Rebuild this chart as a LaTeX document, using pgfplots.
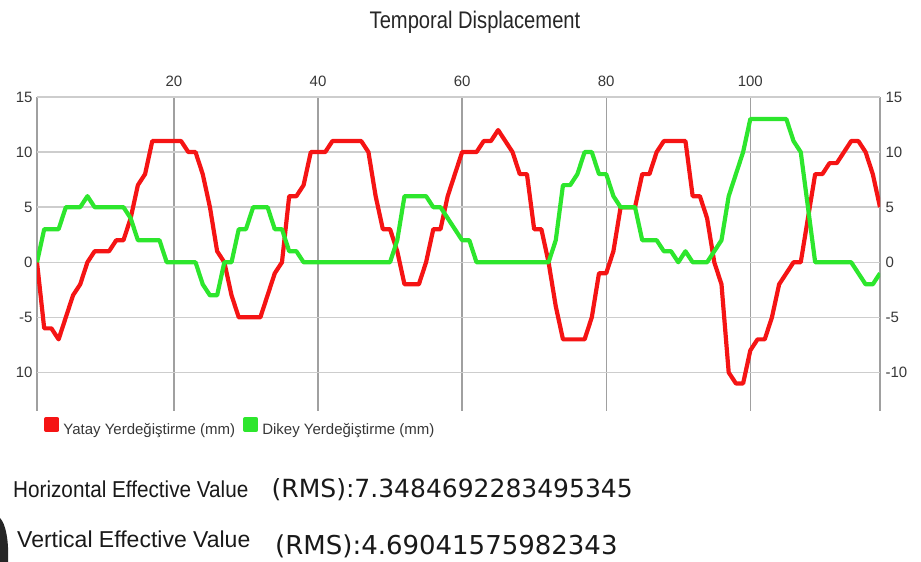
\documentclass[border=0pt]{standalone}
\usepackage{graphicx}
\usepackage{pgfplots}
\pgfplotsset{compat=1.18}
\usepackage{pgfplotstable}
\usepackage{fontspec}
\setmainfont{Liberation Sans}
\newfontfamily\dejavu{DejaVu Sans}

\definecolor{cred}{RGB}{245,20,20}
\definecolor{cgreen}{RGB}{45,230,45}
\definecolor{vgrid}{RGB}{160,160,160}
\definecolor{hgrid}{RGB}{205,205,205}
\definecolor{ticktext}{RGB}{55,55,55}

% horizontal displacement (red)
\pgfplotstableread{
x y
1 0
2 -6
3 -6
4 -7
5 -5
6 -3
7 -2
8 0
9 1
10 1
11 1
12 2
13 2
14 4
15 7
16 8
17 11
18 11
19 11
20 11
21 11
22 10
23 10
24 8
25 5
26 1
27 0
28 -3
29 -5
30 -5
31 -5
32 -5
33 -3
34 -1
35 0
36 6
37 6
38 7
39 10
40 10
41 10
42 11
43 11
44 11
45 11
46 11
47 10
48 6
49 3
50 3
51 1
52 -2
53 -2
54 -2
55 0
56 3
57 3
58 6
59 8
60 10
61 10
62 10
63 11
64 11
65 12
66 11
67 10
68 8
69 8
70 3
71 3
72 0
73 -4
74 -7
75 -7
76 -7
77 -7
78 -5
79 -1
80 -1
81 1
82 5
83 5
84 5
85 8
86 8
87 10
88 11
89 11
90 11
91 11
92 6
93 6
94 4
95 0
96 -2
97 -10
98 -11
99 -11
100 -8
101 -7
102 -7
103 -5
104 -2
105 -1
106 0
107 0
108 4
109 8
110 8
111 9
112 9
113 10
114 11
115 11
116 10
117 8
118 5
}\yatay

% vertical displacement (green)
\pgfplotstableread{
x y
1 0
2 3
3 3
4 3
5 5
6 5
7 5
8 6
9 5
10 5
11 5
12 5
13 5
14 4
15 2
16 2
17 2
18 2
19 0
20 0
21 0
22 0
23 0
24 -2
25 -3
26 -3
27 0
28 0
29 3
30 3
31 5
32 5
33 5
34 3
35 3
36 1
37 1
38 0
39 0
40 0
41 0
42 0
43 0
44 0
45 0
46 0
47 0
48 0
49 0
50 0
51 2
52 6
53 6
54 6
55 6
56 5
57 5
58 4
59 3
60 2
61 2
62 0
63 0
64 0
65 0
66 0
67 0
68 0
69 0
70 0
71 0
72 0
73 2
74 7
75 7
76 8
77 10
78 10
79 8
80 8
81 6
82 5
83 5
84 5
85 2
86 2
87 2
88 1
89 1
90 0
91 1
92 0
93 0
94 0
95 1
96 2
97 6
98 8
99 10
100 13
101 13
102 13
103 13
104 13
105 13
106 11
107 10
108 5
109 0
110 0
111 0
112 0
113 0
114 0
115 -1
116 -2
117 -2
118 -1
}\dikey

\begin{document}
\begin{tikzpicture}
\useasboundingbox (0,0) rectangle (921pt,562pt);

\pgfplotsset{
  panel/.style={
    at={(37pt,151pt)}, anchor=south west,
    width=843pt, height=314pt, scale only axis,
    xmin=1, xmax=118, ymin=-13.5, ymax=15,
    axis line style={draw=none},
    major tick length=0pt,
    ytick={-10,-5,0,5,10,15},
    tick label style={font=\fontsize{15}{18}\selectfont, text=ticktext},
  }
}

\begin{axis}[panel,
  xtick={1,20,40,60,80,100,118},
  xticklabels={,20,40,60,80,100,},
  xticklabel pos=top,
  xticklabel style={yshift=7pt},
  yticklabels={10,-5,0,5,10,15},
  yticklabel style={xshift=-1pt},
  xmajorgrids, ymajorgrids,
  x grid style={vgrid, line width=1.4pt},
  y grid style={hgrid, line width=1.4pt},
  legend columns=2,
  legend style={at={(0.0083,-0.018)}, anchor=north west,
    draw=none, fill=none, inner sep=0pt,
    nodes={inner sep=0pt},
    font=\fontsize{15}{18}\selectfont, text=ticktext,
    /tikz/every odd column/.append style={column sep=4pt},
    /tikz/every even column/.append style={column sep=8pt}},
  legend image code/.code={\fill[#1] (0pt,-0.3pt) rectangle (11pt,10.7pt);},
]
\addplot[color=cred, line width=4.2pt, line join=round] table[x=x, y=y] {\yatay};
\addlegendentry{Yatay Yerdeğiştirme (mm)}
\addplot[color=cgreen, line width=4.2pt, line join=round] table[x=x, y=y] {\dikey};
\addlegendentry{Dikey Yerdeğiştirme (mm)}
\end{axis}

\begin{axis}[panel,
  xtick=\empty,
  yticklabel pos=right,
  yticklabels={-10,-5,0,5,10,15},
  yticklabel style={xshift=2pt},
]
\end{axis}

\node[anchor=base, inner sep=0pt, text=black!85] at (475pt,533.7pt)
  {\fontsize{24}{28}\selectfont\scalebox{0.84}[1]{Temporal Displacement}};

\node[anchor=base west, inner sep=0pt, text=black!90] at (13pt,64pt)
  {\fontsize{23}{27}\selectfont\scalebox{0.9}[1]{Horizontal Effective Value}};
\node[anchor=base west, inner sep=0pt, text=black!90] at (17pt,14.3pt)
  {\fontsize{23}{27}\selectfont Vertical Effective Value};
\node[anchor=base west, inner sep=0pt, text=black!90] at (271.5pt,64.7pt)
  {\dejavu\fontsize{25}{30}\selectfont (RMS):7.3484692283495345};
\node[anchor=base west, inner sep=0pt, text=black!90] at (275pt,7.7pt)
  {\dejavu\fontsize{26}{31}\selectfont (RMS):4.69041575982343};

% dark object cut off at the lower left edge of the screenshot
\fill[black!85] (0pt,44pt) .. controls (6pt,38pt) and (9pt,20pt) .. (8pt,0pt) -- (0pt,0pt) -- cycle;
\end{tikzpicture}
\end{document}
